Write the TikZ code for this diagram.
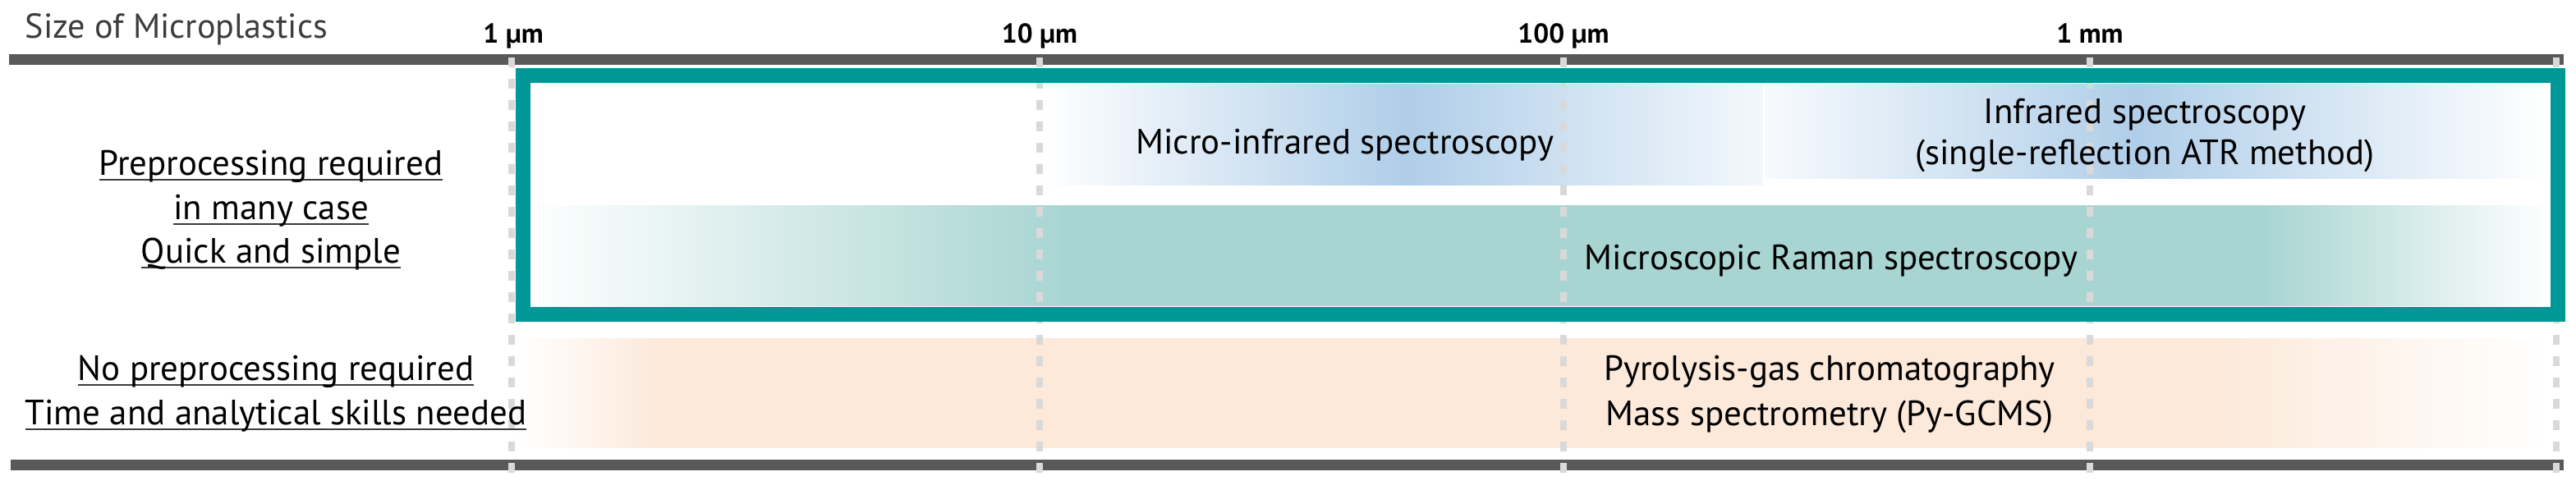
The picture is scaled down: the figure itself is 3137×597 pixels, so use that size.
\documentclass[tikz,border=0pt]{standalone}
\usepackage{fontspec}
\setmainfont{PT Sans}
\definecolor{tealc}{RGB}{0,152,150}
\definecolor{ramanc}{RGB}{168,213,210}
\definecolor{irc}{RGB}{176,206,233}
\colorlet{irlight}{irc!15!white}
\colorlet{irlighter}{irc!10!white}
\definecolor{pyc}{RGB}{252,233,218}
\definecolor{barc}{RGB}{89,89,89}
\definecolor{dashc}{RGB}{217,217,217}
\definecolor{titlec}{RGB}{60,60,60}
\definecolor{ulc}{RGB}{60,60,60}
\pgfdeclarehorizontalshading{ramansh}{100bp}{color(0bp)=(white); color(25bp)=(white); color(38.4bp)=(ramanc); color(68bp)=(ramanc); color(75bp)=(white); color(100bp)=(white)}
\pgfdeclarehorizontalshading{pysh}{100bp}{color(0bp)=(white); color(25bp)=(white); color(28.6bp)=(pyc); color(66.7bp)=(pyc); color(75bp)=(white); color(100bp)=(white)}
\pgfdeclarehorizontalshading{mirsh}{100bp}{color(0bp)=(white); color(25bp)=(white); color(50.3bp)=(irc); color(75bp)=(irlight); color(100bp)=(irlight)}
\pgfdeclarehorizontalshading{atrsh}{100bp}{color(0bp)=(irlighter); color(25bp)=(irlighter); color(48.7bp)=(irc); color(75bp)=(white); color(100bp)=(white)}
\newcommand{\myul}[1]{\setbox0\hbox{#1}\rlap{\color{ulc}\rule[-2pt]{\wd0}{0.7pt}}\box0}
\begin{document}
\begin{tikzpicture}[x=0.1mm,y=-0.1mm,
  lbl/.style={font=\fontsize{12.2}{15}\selectfont, anchor=base, inner sep=0pt},
  ticklbl/.style={font=\fontsize{9.5}{11}\selectfont\bfseries, anchor=base, inner sep=0pt},
  guide/.style={draw=dashc, line width=0.8mm, dash pattern=on 1.2mm off 1.4mm},
  barstyle/.style={fill=barc},
  frame/.style={draw=tealc, line width=1.8mm}
 ]
\useasboundingbox (0,0) rectangle (3137,597);
% bands
\shade[shading=mirsh] (1266,102) rectangle (2147,225);
\shade[shading=atrsh] (2149,102) rectangle (3103,217);
\shade[shading=ramansh] (638,250) rectangle (3103,372);
\shade[shading=pysh] (626,412) rectangle (3105,545);
% bars
\fill[barstyle] (11,66) rectangle (3122,79);
\fill[barstyle] (13,560) rectangle (3122,573);
% guides
\foreach \x in {623,1266,1904,2545,3113} \draw[guide] (\x,70) -- (\x,576);
% frame
\draw[frame] (637,92) rectangle (3115,383);
% texts
\node[anchor=base west, inner sep=0pt, font=\fontsize{12}{14}\selectfont, text=titlec] (title) at (30,46) {Size of Microplastics};
\node[ticklbl] (t1) at (625,52) {1 µm};
\node[ticklbl] (t10) at (1266,52) {10 µm};
\node[ticklbl] (t100) at (1904,52) {100 µm};
\node[ticklbl] (t1mm) at (2545,52) {1 mm};
\node[lbl] (mir) at (1638,187) {Micro-infrared spectroscopy};
\node[lbl] (atr1) at (2612,150) {Infrared spectroscopy};
\node[lbl] (atr2) at (2612,200) {(single-reflection ATR method)};
\node[lbl] (raman) at (2230,328) {Microscopic Raman spectroscopy};
\node[lbl] (py1) at (2228,463) {Pyrolysis-gas chromatography};
\node[lbl] (py2) at (2228,518) {Mass spectrometry (Py-GCMS)};
\node[lbl] (l1) at (330,213) {\myul{Preprocessing required}};
\node[lbl] (l2) at (330,267) {\myul{in many case}};
\node[lbl] (l3) at (330,320) {\myul{Quick and simple}};
\node[lbl] (l4) at (336,463) {\myul{No preprocessing required}};
\node[lbl] (l5) at (336,517) {\myul{Time and analytical skills needed}};
\end{tikzpicture}
\end{document}
